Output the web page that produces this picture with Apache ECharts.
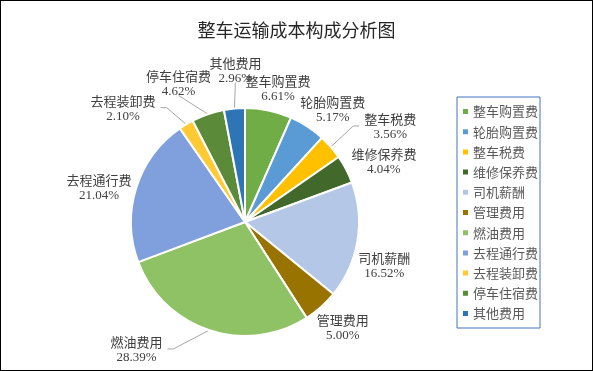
<!DOCTYPE html>
<html><head><meta charset="utf-8">
<script src="https://cdn.jsdelivr.net/npm/echarts@6/dist/echarts.min.js"></script>
<style>html,body{margin:0;padding:0;background:#fff}#c{width:593px;height:371px;box-sizing:border-box;border:1px solid #000}</style>
</head><body><div id="c"></div>
<script>
const categories = ['整车购置费','轮胎购置费','整车税费','维修保养费','司机薪酬','管理费用','燃油费用','去程通行费','去程装卸费','停车住宿费','其他费用'];
const values = [6.61,5.17,3.56,4.04,16.52,5.00,28.39,21.04,2.10,4.62,2.96];
const colors = ['#70AD47','#5B9BD5','#FFC000','#43682B','#B4C7E7','#997300','#8FC165','#7F9FDD','#FFCA33','#5B8A39','#2E75B6'];

const chart = echarts.init(document.getElementById('c'));

(function build(){
  const PIE_C = [244, 221], PIE_R = 114;
  // label placement ("best fit"-like): angular turn (deg) from slice mid-angle and clearance beyond the pie edge
  const TURN = [2, 5, 8, 4, 8, -1, 22, -4, -16, -6.6, 1.7];
  const GAP  = [2, -3, 30, 2, 3, 2, 26, 1, 19, 13, 22];
  const total = values.reduce((a, b) => a + b, 0);

  function layout(params){
    const i = params.dataIndex;
    const before = values.slice(0, i).reduce((a, b) => a + b, 0);
    const mid = (before + values[i] / 2) / total * 2 * Math.PI;
    const ang = mid + TURN[i] * Math.PI / 180;
    const ux = Math.sin(ang), uy = -Math.cos(ang);
    const w = params.labelRect.width, h = params.labelRect.height;
    const d = PIE_R + GAP[i] + Math.abs(ux) * w / 2 + Math.abs(uy) * h / 2;
    const lx = PIE_C[0] + ux * d, ly = PIE_C[1] + uy * d;
    const p0 = [PIE_C[0] + Math.sin(mid) * PIE_R, PIE_C[1] - Math.cos(mid) * PIE_R];
    let pts;
    if (GAP[i] > 8) {
      if (Math.abs(ux) > 0.6) {
        const s = ux < 0 ? 1 : -1;
        const edge = lx + s * w / 2;
        const endP = [edge + s * 5, ly - 1];
        pts = [p0, [edge + s * 11, ly - 1], endP];
      } else {
        const endP = [lx, uy < 0 ? ly + h / 2 - 2 : ly - h / 2 + 2];
        pts = [p0, endP, endP];
      }
    } else {
      pts = [p0, p0, p0];
    }
    return {x: lx, y: ly, align: 'center', verticalAlign: 'middle', labelLinePoints: pts};
  }

  chart.setOption({
    animation:false,
    title:{text:'整车运输成本构成分析图',left:'center',top:15,textStyle:{fontFamily:'Noto Sans CJK SC',fontWeight:'normal',fontSize:18,color:'#262626'}},
    legend:{orient:'vertical',left:456,top:96,width:84,height:228,itemWidth:7,itemHeight:7,itemGap:7.2,icon:'rect',
      borderColor:'#4472C4',borderWidth:1,padding:[8,2,8,4],
      textStyle:{fontFamily:'Noto Sans CJK SC',fontSize:13,color:'#595959',padding:[0,0,0,-1]},data:categories},
    color:colors,
    series:[{type:'pie',center:PIE_C,radius:[0,PIE_R],startAngle:90,clockwise:true,
      itemStyle:{borderColor:'#fff',borderWidth:2},
      label:{formatter:p=>'{n|'+p.name+'}\n{v|'+p.value.toFixed(2)+'%}',
        rich:{n:{fontFamily:'Noto Sans CJK SC',fontSize:13,color:'#404040',lineHeight:16,align:'center'},
              v:{fontFamily:'Liberation Serif',fontSize:13,color:'#404040',lineHeight:15,align:'center'}}},
      labelLine:{show:true,length:4,length2:4,lineStyle:{color:'#A6A6A6',width:1}},
      labelLayout:layout,
      data:categories.map((c,i)=>({name:c,value:values[i]}))}]
  });
})();
</script></body></html>
